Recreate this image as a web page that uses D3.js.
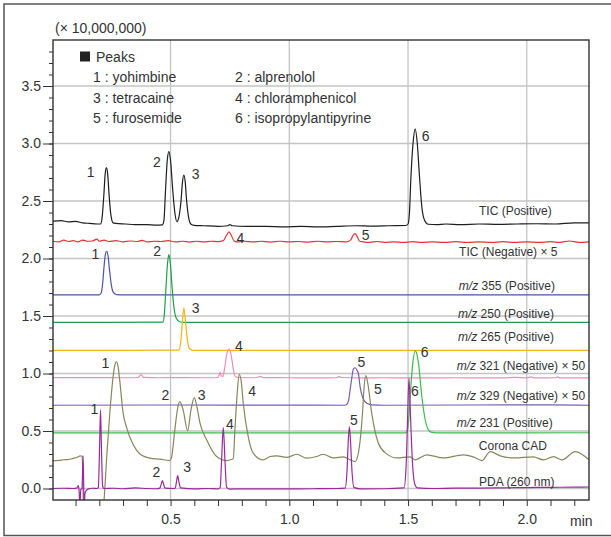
<html>
<head>
<script src="https://d3js.org/d3.v7.min.js"></script>
<style>
body{margin:0;background:#fff;}
text{font-family:"Liberation Sans",Arial,sans-serif;fill:#333;}
</style>
</head>
<body>
<div id="chart"></div>
<script>
// retention time (min), intensity (x 10,000,000)
var ticPositive=[[0.005,2.325],[0.04,2.33],[0.07,2.318],[0.10,2.322],[0.13,2.31],[0.16,2.305],[0.19,2.30],
 [0.205,2.30],[0.212,2.36],[0.219,2.55],[0.225,2.74],[0.230,2.79],[0.235,2.74],[0.241,2.56],[0.248,2.39],[0.258,2.31],[0.27,2.305],
 [0.31,2.30],[0.35,2.295],[0.40,2.295],[0.44,2.29],[0.465,2.292],
 [0.472,2.33],[0.479,2.60],[0.486,2.85],[0.493,2.93],[0.500,2.85],[0.509,2.60],[0.518,2.40],[0.527,2.32],
 [0.535,2.36],[0.544,2.50],[0.550,2.66],[0.556,2.726],[0.562,2.66],[0.567,2.52],[0.575,2.37],[0.585,2.30],[0.60,2.288],
 [0.64,2.285],[0.70,2.28],[0.74,2.285],[0.75,2.295],[0.76,2.285],[0.82,2.28],[0.90,2.28],[0.98,2.275],[1.05,2.28],[1.12,2.275],
 [1.20,2.28],[1.28,2.285],[1.35,2.282],[1.42,2.285],[1.49,2.287],
 [1.500,2.30],[1.506,2.40],[1.512,2.70],[1.521,3.0],[1.530,3.128],[1.539,3.0],[1.548,2.72],[1.558,2.45],[1.570,2.33],[1.585,2.298],
 [1.62,2.295],[1.66,2.30],[1.72,2.295],[1.80,2.30],[1.88,2.297],[1.96,2.30],[2.04,2.302],[2.12,2.30],[2.20,2.31],[2.262,2.31]];

var ticNegative=[[0.005,2.15],[0.03,2.145],[0.05,2.16],[0.07,2.148],[0.09,2.155],[0.11,2.145],[0.13,2.16],[0.15,2.15],[0.17,2.152],
 [0.19,2.168],[0.20,2.15],[0.22,2.16],[0.24,2.148],[0.27,2.155],[0.30,2.145],[0.33,2.152],[0.36,2.148],[0.38,2.158],[0.40,2.145],
 [0.43,2.15],[0.46,2.148],[0.49,2.155],[0.52,2.145],[0.55,2.15],[0.58,2.143],[0.61,2.15],[0.64,2.145],[0.67,2.15],[0.70,2.147],
 [0.722,2.155],[0.735,2.20],[0.746,2.231],[0.756,2.20],[0.768,2.152],[0.78,2.145],[0.81,2.15],[0.85,2.145],[0.88,2.15],[0.92,2.143],
 [0.96,2.15],[1.0,2.145],[1.04,2.148],[1.08,2.142],[1.12,2.15],[1.16,2.145],[1.20,2.148],[1.24,2.145],
 [1.258,2.16],[1.268,2.20],[1.277,2.217],[1.286,2.19],[1.296,2.15],[1.31,2.145],[1.34,2.14],[1.37,2.148],[1.40,2.14],[1.44,2.145],
 [1.48,2.14],[1.52,2.146],[1.56,2.14],[1.60,2.145],[1.65,2.14],[1.70,2.146],[1.75,2.14],[1.80,2.145],[1.85,2.14],[1.90,2.146],
 [1.95,2.14],[2.0,2.145],[2.05,2.14],[2.10,2.146],[2.14,2.14],[2.18,2.152],[2.22,2.14],[2.262,2.145]];

var mz355=[[0.005,1.684],[0.20,1.684],[0.208,1.70],[0.214,1.78],[0.220,1.93],[0.226,2.04],[0.231,2.063],[0.237,2.02],[0.243,1.90],
 [0.250,1.78],[0.258,1.71],[0.272,1.686],[0.30,1.684],[2.262,1.684]];

var mz250=[[0.005,1.444],[0.468,1.446],[0.474,1.52],[0.480,1.72],[0.487,1.95],[0.493,2.035],[0.499,1.96],[0.506,1.76],[0.514,1.58],
 [0.524,1.48],[0.54,1.448],[0.56,1.444],[2.262,1.444]];

var mz265=[[0.005,1.201],[0.535,1.203],[0.542,1.26],[0.549,1.42],[0.556,1.571],[0.563,1.45],[0.571,1.29],[0.58,1.215],[0.595,1.201],[2.262,1.201]];

var mz321=[[0.005,0.965],[0.10,0.964],[0.20,0.965],[0.30,0.963],[0.365,0.965],[0.372,0.985],[0.378,0.99],[0.385,0.966],[0.45,0.963],
 [0.55,0.964],[0.65,0.963],[0.70,0.965],[0.705,0.99],[0.709,1.01],[0.713,0.98],[0.72,0.975],[0.728,1.05],[0.737,1.17],[0.747,1.213],
 [0.756,1.15],[0.764,1.04],[0.772,0.975],[0.785,0.965],[0.86,0.963],[0.88,0.975],[0.89,0.964],[1.0,0.963],[1.1,0.962],[1.20,0.963],
 [1.21,0.975],[1.218,0.965],[1.3,0.962],[1.4,0.963],[1.5,0.962],[1.6,0.962],[1.7,0.963],[1.80,0.962],[1.9,0.962],[1.95,0.966],
 [2.0,0.962],[2.02,0.97],[2.03,0.962],[2.12,0.963],[2.13,0.97],[2.14,0.962],[2.262,0.962]];

var mz329=[[0.005,0.724],[0.5,0.726],[1.0,0.725],[1.235,0.724],[1.244,0.735],[1.250,0.77],[1.257,0.87],[1.264,0.972],[1.270,1.04],
 [1.277,1.050],[1.283,1.035],[1.291,1.0],[1.298,0.886],[1.310,0.785],[1.327,0.741],[1.348,0.727],[1.40,0.724],[2.1,0.728],[2.262,0.724]];

var mz231=[[0.005,0.483],[1.0,0.483],[1.49,0.484],[1.497,0.50],[1.503,0.60],[1.509,0.80],[1.520,1.09],[1.530,1.198],[1.537,1.17],
 [1.544,1.09],[1.558,0.80],[1.572,0.60],[1.586,0.51],[1.60,0.488],[1.62,0.484],[2.262,0.485]];

var coronaCAD=[[0.005,0.243],[0.03,0.245],[0.05,0.25],[0.07,0.252],[0.09,0.262],[0.105,0.27],[0.120,0.283],[0.128,0.28],[0.131,0.05],
 [0.135,-0.3],[0.21,-0.3],[0.220,-0.1],[0.232,0.30],[0.244,0.65],[0.258,0.97],[0.266,1.08],[0.272,1.102],[0.279,1.06],[0.287,0.92],
 [0.300,0.66],[0.315,0.53],[0.343,0.38],[0.371,0.30],[0.413,0.264],[0.455,0.255],[0.497,0.243],[0.504,0.27],[0.518,0.51],[0.530,0.70],
 [0.539,0.755],[0.546,0.73],[0.553,0.683],[0.572,0.503],[0.586,0.683],[0.600,0.79],[0.610,0.72],[0.624,0.568],[0.652,0.423],
 [0.694,0.278],[0.736,0.243],[0.764,0.258],[0.771,0.51],[0.780,0.81],[0.789,0.993],[0.797,0.94],[0.806,0.744],[0.827,0.451],
 [0.848,0.307],[0.890,0.249],[0.919,0.278],[0.947,0.284],[0.989,0.27],[1.031,0.298],[1.073,0.264],[1.115,0.278],[1.143,0.298],
 [1.184,0.266],[1.228,0.275],[1.256,0.249],[1.277,0.234],[1.290,0.30],[1.300,0.45],[1.308,0.65],[1.315,0.88],[1.322,0.981],
 [1.330,0.92],[1.347,0.655],[1.375,0.394],[1.410,0.301],[1.453,0.266],[1.509,0.275],[1.530,0.249],[1.579,0.293],[1.649,0.266],
 [1.733,0.293],[1.775,0.275],[1.811,0.243],[1.846,0.321],[1.888,0.284],[1.944,0.266],[2.028,0.275],[2.070,0.249],[2.113,0.278],
 [2.148,0.249],[2.204,0.321],[2.262,0.249]];

var pda260=[[0.005,0.0],[0.05,0.002],[0.09,0.0],[0.105,0.003],[0.111,0.026],[0.115,-0.02],[0.118,-0.16],[0.122,-0.01],[0.127,0.0],
 [0.132,0.283],[0.136,-0.16],[0.140,-0.04],[0.145,-0.018],[0.155,-0.003],[0.17,0.002],[0.19,0.0],[0.196,0.01],[0.201,0.35],
 [0.205,0.683],[0.209,0.35],[0.214,0.02],[0.22,0.0],[0.26,0.002],[0.30,-0.002],[0.35,0.005],[0.40,0.0],[0.44,-0.002],[0.455,0.003],
 [0.461,0.04],[0.466,0.069],[0.471,0.035],[0.477,0.003],[0.51,0.0],[0.52,0.005],[0.525,0.06],[0.530,0.113],[0.535,0.06],[0.542,0.005],
 [0.60,-0.003],[0.66,0.0],[0.70,-0.003],[0.709,0.01],[0.715,0.25],[0.722,0.530],[0.729,0.25],[0.736,0.01],[0.75,-0.005],[0.80,-0.003],
 [0.9,-0.004],[1.0,-0.003],[1.1,-0.002],[1.2,0.0],[1.235,0.003],[1.243,0.15],[1.248,0.40],[1.253,0.538],[1.258,0.40],[1.264,0.15],
 [1.272,0.01],[1.3,-0.003],[1.4,-0.002],[1.483,0.005],[1.492,0.20],[1.498,0.60],[1.504,0.958],[1.510,0.65],[1.518,0.25],[1.528,0.04],
 [1.539,0.005],[1.6,0.0],[1.7,0.003],[1.8,0.004],[1.9,0.006],[2.0,0.008],[2.1,0.01],[2.2,0.012],[2.262,0.013]];

var traceNames=["TIC (Positive)","TIC (Negative) × 5","m/z 355 (Positive)","m/z 250 (Positive)","m/z 265 (Positive)",
 "m/z 321 (Negative) × 50","m/z 329 (Negative) × 50","m/z 231 (Positive)","Corona CAD","PDA (260 nm)"];
var traceData=[ticPositive,ticNegative,mz355,mz250,mz265,mz321,mz329,mz231,coronaCAD,pda260];
var traceColors=["#1e1e1e","#e8303a","#4a55a8","#1aa04a","#f2b418","#f08cb4","#7a5cb8","#3cbc4c","#86865c","#9a2a9c"];
// label anchor per trace, in (min, intensity)
var traceLabelAt=[[1.799,2.376],[1.715,2.020],[1.714,1.725],[1.710,1.482],[1.710,1.282],[1.705,1.030],[1.705,0.770],[1.705,0.536],[1.798,0.336],[1.799,0.023]];

// peak numbers: text, min, intensity
var peakLabels=[["1",0.1475,2.706],["2",0.426,2.793],["3",0.589,2.688],["6",1.558,3.018],
 ["4",0.778,2.133],["5",1.305,2.159],["1",0.167,1.994],["2",0.427,2.020],["3",0.589,1.525],["4",0.771,1.195],
 ["5",1.287,1.056],["6",1.554,1.143],["1",0.209,1.048],["2",0.462,0.770],["3",0.614,0.770],["4",0.827,0.805],["5",1.357,0.822],
 ["1",0.163,0.648],["2",0.424,0.102],["3",0.553,0.145],["4",0.733,0.520],["5",1.256,0.553],["6",1.513,0.805]];

var legendItems=["1 : yohimbine","2 : alprenolol","3 : tetracaine","4 : chloramphenicol","5 : furosemide","6 : isopropylantipyrine"];

var W=611,H=537;
var margin={top:40,right:22,bottom:37,left:53};
var width=W-margin.left-margin.right, height=H-margin.top-margin.bottom;

var svg=d3.select("#chart").append("svg").attr("width",W).attr("height",H);

// outer frame (right edge falls outside the picture)
svg.append("rect").attr("x",4).attr("y",4).attr("width",620).attr("height",531.5)
 .attr("fill","none").attr("stroke","#555").attr("stroke-width",1.5);

var g=svg.append("g").attr("transform","translate("+margin.left+","+margin.top+")");

var x=d3.scaleLinear().domain([0.005,2.262]).range([0,width]);
var y=d3.scaleLinear().domain([-0.1,3.9]).range([height,0]);

// grid
g.append("g").selectAll("line").data([0.5,1.0,1.5,2.0]).enter().append("line")
 .attr("x1",d=>x(d)).attr("x2",d=>x(d)).attr("y1",0).attr("y2",height)
 .attr("stroke","#c4c4c4").attr("stroke-width",1.3);
g.append("g").selectAll("line").data([0,0.5,1.0,1.5,2.0,2.5,3.0,3.5]).enter().append("line")
 .attr("y1",d=>y(d)).attr("y2",d=>y(d)).attr("x1",0).attr("x2",width)
 .attr("stroke","#c4c4c4").attr("stroke-width",1.3);

svg.append("defs").append("clipPath").attr("id","clip").append("rect").attr("width",width).attr("height",height);

var line=d3.line().x(d=>x(d[0])).y(d=>y(d[1])).curve(d3.curveMonotoneX);

var traces=g.append("g").attr("clip-path","url(#clip)");
traceData.forEach(function(td,i){
	traces.append("path").datum(td).attr("d",line).attr("fill","none")
	.attr("stroke",traceColors[i]).attr("stroke-width",1.2);
});

// axes
var yAxis=d3.axisLeft(y).tickValues(d3.range(0,39).map(i=>i/10)).tickSize(4).tickFormat("");
g.append("g").call(yAxis).call(s=>s.select(".domain").remove()).selectAll("line").attr("stroke","#333");
var yMajor=d3.axisLeft(y).tickValues([0,0.5,1,1.5,2,2.5,3,3.5]).tickSize(10).tickPadding(2).tickFormat(d3.format(".1f"));
var ym=g.append("g").call(yMajor);
ym.select(".domain").remove();
ym.selectAll("line").attr("stroke","#333");
ym.selectAll("text").style("font-size","14px").attr("fill","#333");

var xAxis=d3.axisBottom(x).tickValues(d3.range(1,23).map(i=>i/10)).tickSize(6).tickFormat(d=>(Math.round(d*10)%5==0)?d3.format(".1f")(d):"");
var xa=g.append("g").attr("transform","translate(0,"+height+")").call(xAxis);
xa.select(".domain").remove();
xa.selectAll("line").attr("stroke","#333");
xa.selectAll("text").style("font-size","14px").attr("fill","#333").attr("dy","1.1em");

// plot frame
g.append("rect").attr("width",width).attr("height",height).attr("fill","none").attr("stroke","#333").attr("stroke-width",1.4);

svg.append("text").attr("x",570).attr("y",526).style("font-size","14px").text("min");
svg.append("text").attr("x",55).attr("y",33).style("font-size","14px").text("(× 10,000,000)");

// trace labels
traceNames.forEach(function(n,i){
	var t=g.append("text").attr("x",x(traceLabelAt[i][0])).attr("y",y(traceLabelAt[i][1])).style("font-size","12px");
	if(n.indexOf("m/z")==0){
		t.append("tspan").style("font-style","italic").text("m/z");
		t.append("tspan").text(n.slice(3));
	}
	else t.text(n);
});

// peak numbers
g.append("g").selectAll("text").data(peakLabels).enter().append("text")
 .attr("x",d=>x(d[1])).attr("y",d=>y(d[2])).style("font-size","14px").text(d=>d[0]);

// legend
svg.append("rect").attr("x",80).attr("y",51.5).attr("width",10).attr("height",10).attr("fill","#222");
svg.append("text").attr("x",96).attr("y",62).style("font-size","14px").text("Peaks");
legendItems.forEach(function(s,i){
	svg.append("text").attr("x",i%2==0?93:235).attr("y",82+Math.floor(i/2)*20.7).style("font-size","14px").text(s);
});
</script>
</body>
</html>
